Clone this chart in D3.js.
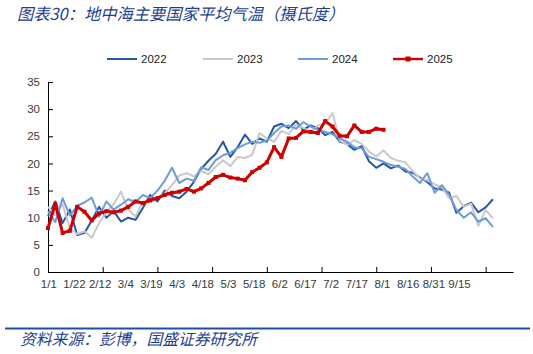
<!DOCTYPE html>
<html><head><meta charset="utf-8">
<script src="https://cdn.jsdelivr.net/npm/d3@7"></script>
<style>
body{margin:0;background:#fff;}
svg{display:block;}
</style></head><body>
<svg id="c" width="533" height="354"></svg>
<script>
// ---- data (one value every STEP days, starting 1/1) ----
const STEP = 4;
const years = ["2022", "2023", "2024", "2025"];
const t2022 = [10.3,13.0,9.0,11.5,6.8,7.2,9.5,12.0,10.0,11.2,9.3,10.0,9.6,11.8,14.2,13.0,15.0,14.0,13.6,14.8,
  16.6,19.0,20.5,21.8,24.0,21.2,23.0,25.3,23.6,24.6,24.0,26.8,27.3,26.5,27.8,26.2,27.0,26.5,25.2,25.8,
  24.0,23.6,22.5,23.2,20.4,19.2,20.0,19.1,19.6,18.5,18.3,17.4,16.6,15.4,15.2,14.6,10.9,12.1,12.8,11.0,11.9,13.4];
const t2023 = [12.0,10.5,12.5,8.0,7.0,7.5,6.3,9.0,11.0,12.5,14.8,11.5,10.2,13.0,12.8,13.8,14.5,16.0,17.8,18.2,
  17.6,18.6,18.0,19.4,20.6,19.5,21.2,21.0,21.6,25.6,24.6,24.0,26.0,25.4,27.2,26.5,25.8,27.0,27.3,29.3,
  24.2,23.4,24.3,23.6,22.2,21.3,22.4,21.0,20.5,20.2,18.6,17.2,16.9,16.2,15.6,13.6,14.0,12.0,12.6,8.5,11.4,9.9];
const t2024 = [11.2,9.2,13.6,10.4,12.2,12.8,13.7,10.2,13.0,11.5,12.4,13.4,12.8,14.2,13.6,15.0,16.8,19.2,16.4,17.2,
  16.8,19.3,18.8,20.6,21.5,22.0,22.8,23.5,24.0,23.8,24.2,25.6,26.8,27.0,26.4,27.6,26.8,26.2,25.8,25.4,
  24.6,24.0,23.0,22.8,21.2,20.8,20.3,19.7,19.4,19.0,17.6,16.4,18.2,14.6,16.0,14.2,11.4,10.0,11.0,9.3,9.9,8.3];
const t2025 = [8.1,12.5,7.2,7.6,12.0,11.1,9.5,10.8,11.2,11.0,11.3,12.0,13.0,12.7,13.2,13.6,14.2,14.6,14.8,15.3,
  14.8,15.4,16.4,17.5,17.9,17.4,17.2,16.9,18.4,19.2,20.2,23.0,21.2,24.6,24.7,25.9,25.8,25.6,27.8,26.8,
  25.1,25.0,27.0,25.8,25.8,26.4,26.2];
const xLabels = ["1/1","1/22","2/12","3/4","3/19","4/3","4/18","5/3","5/18","6/2","6/17","7/2","7/17","8/1","8/16","8/31","9/15"];
const yTicks = [0,5,10,15,20,25,30,35];
const xTickDays = [30,60,90,120,150,180,210,240];
const titleText = "图表30：地中海主要国家平均气温（摄氏度）";
const sourceText = "资料来源：彭博，国盛证券研究所";

const series = [
  {name: years[0], values: t2022, color: "#2457a7", width: 2},
  {name: years[1], values: t2023, color: "#c9c9c9", width: 2},
  {name: years[2], values: t2024, color: "#6e9bd9", width: 2},
  {name: years[3], values: t2025, color: "#cc0000", width: 3, marker: true}
];

const svg = d3.select("#c");
const x = d3.scaleLinear().domain([0, 255]).range([48, 513]);
const y = d3.scaleLinear().domain([0, 35]).range([272, 82]);
const xl = d3.scalePoint().domain(xLabels).range([48.3, 459]);
const font = "'Liberation Sans', Arial, sans-serif";
const ink = "#3a3a3a";

// title
svg.append("text").attr("x", 17).attr("y", 20)
  .attr("font-family", "'Noto Sans CJK SC', sans-serif").attr("font-size", 16.3)
  .attr("font-style", "italic").attr("fill", "#1d3f8f").text(titleText);

// y axis
const ya = svg.append("g").attr("transform", "translate(48,0)")
  .call(d3.axisLeft(y).tickValues(yTicks).tickSizeInner(-5).tickSizeOuter(0).tickPadding(8));
ya.select(".domain").attr("stroke", "#000").attr("stroke-width", 1);
ya.selectAll(".tick line").attr("stroke", "#000");
ya.selectAll("text").attr("font-family", font).attr("font-size", 11.5).attr("fill", ink);

// x axis line + ticks
const xa = svg.append("g").attr("transform", "translate(0,272)")
  .call(d3.axisBottom(x).tickValues(xTickDays).tickSizeInner(-5).tickSizeOuter(0).tickFormat(""));
xa.select(".domain").attr("stroke", "#000").attr("stroke-width", 1);
xa.selectAll(".tick line").attr("stroke", "#000");

// x labels
const xla = svg.append("g").attr("transform", "translate(0,280)")
  .call(d3.axisBottom(xl).tickSize(0).tickPadding(0));
xla.select(".domain").remove();
xla.selectAll("text").attr("font-family", font).attr("font-size", 11.5).attr("fill", ink).attr("dy", "0.71em");

// lines
const line = d3.line().x((d, i) => x(i * STEP)).y(d => y(d));
series.forEach(s => {
  svg.append("path").datum(s.values).attr("fill", "none")
    .attr("stroke", s.color).attr("stroke-width", s.width)
    .attr("stroke-linejoin", "round").attr("d", line);
  if (s.marker) {
    svg.append("g").selectAll("rect").data(s.values).join("rect")
      .attr("x", (d, i) => x(i * STEP) - 2).attr("y", d => y(d) - 2)
      .attr("width", 4).attr("height", 4).attr("fill", s.color);
  }
});

// legend
const legX = [107, 203, 298, 393];
const lg = svg.append("g").attr("transform", "translate(0,59)");
series.forEach((s, k) => {
  const g = lg.append("g").attr("transform", `translate(${legX[k]},0)`);
  g.append("line").attr("x1", 0).attr("x2", 30).attr("y1", 0).attr("y2", 0)
    .attr("stroke", s.color).attr("stroke-width", Math.min(s.width, 2.4));
  if (s.marker) g.append("rect").attr("x", 12.5).attr("y", -2.5).attr("width", 5).attr("height", 5).attr("fill", s.color);
  g.append("text").attr("x", 34).attr("y", 0).attr("dy", "0.36em")
    .attr("font-family", font).attr("font-size", 11.5).attr("fill", "#222").text(s.name);
});

// footer rule and source
svg.append("line").attr("x1", 5).attr("x2", 530).attr("y1", 328.5).attr("y2", 328.5)
  .attr("stroke", "#1f4e9e").attr("stroke-width", 2);
svg.append("text").attr("x", 20).attr("y", 345)
  .attr("font-family", "'Noto Sans CJK SC', sans-serif").attr("font-size", 15.8)
  .attr("font-style", "italic").attr("fill", "#1d3f8f").text(sourceText);
</script>
</body></html>
